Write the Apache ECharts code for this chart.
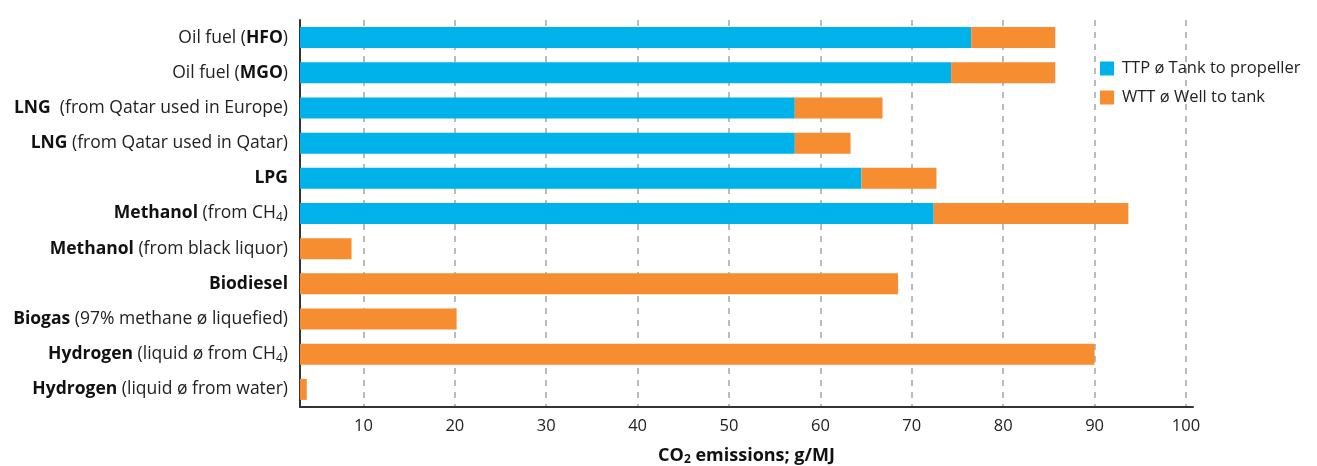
<!DOCTYPE html>
<html>
<head>
<meta charset="utf-8">
<script src="https://cdn.jsdelivr.net/npm/echarts@6/dist/echarts.min.js"></script>
<style>html,body{margin:0;padding:0;background:#fff;}#c{width:1317px;height:466px;}</style>
</head>
<body>
<div id="c"></div>
<script>
// Category labels (rich text markup: b = bold, n = normal, s = subscript)
var categories = [
  '{n|Oil fuel (}{b|HFO}{n|)}',
  '{n|Oil fuel (}{b|MGO}{n|)}',
  '{b|LNG}{n|  (from Qatar used in Europe)}',
  '{b|LNG}{n| (from Qatar used in Qatar)}',
  '{b|LPG}',
  '{b|Methanol}{n| (from CH}{s|4}{n|)}',
  '{b|Methanol}{n| (from black liquor)}',
  '{b|Biodiesel}',
  '{b|Biogas}{n| (97% methane ø liquefied)}',
  '{b|Hydrogen}{n| (liquid ø from CH}{s|4}{n|)}',
  '{b|Hydrogen}{n| (liquid ø from water)}'
];
var seriesNames = ['TTP ø Tank to propeller', 'WTT ø Well to tank'];
var ttp = [76.5, 74.3, 57.2, 57.2, 64.5, 72.4, 0, 0, 0, 0, 0];
var wtt = [9.2, 11.4, 9.6, 6.1, 8.2, 21.3, 8.7, 68.5, 20.2, 90.0, 3.8];
var xTicks = [10, 20, 30, 40, 50, 60, 70, 80, 90, 100];
var xMin = 3.06, xMax = 100.77;

var chart = echarts.init(document.getElementById('c'));
var FONT = 'Open Sans';
chart.setOption({
  animation: false,
  backgroundColor: '#ffffff',
  textStyle: { fontFamily: FONT },
  grid: { left: 300, right: 124, top: 20, bottom: 59, containLabel: false, outerBoundsMode: 'none' },
  legend: {
    orient: 'vertical',
    left: 1100,
    top: 60,
    padding: 0,
    itemWidth: 14,
    itemHeight: 14,
    itemGap: 12,
    icon: 'rect',
    textStyle: { fontFamily: FONT, fontSize: 16.5, color: '#222', padding: [0, 0, 0, 3] },
    data: seriesNames
  },
  xAxis: {
    type: 'value',
    min: xMin,
    max: xMax,
    name: '{b|CO}{s|2}{b| emissions; g/MJ}',
    nameLocation: 'middle',
    nameGap: 39,
    nameTextStyle: {
      rich: {
        b: { fontFamily: FONT, fontSize: 18, fontWeight: 'bold', color: '#111' },
        s: { fontFamily: FONT, fontSize: 12, fontWeight: 'bold', color: '#111', padding: [8, 0, 0, 0] }
      }
    },
    axisLine: { show: true, lineStyle: { color: '#333', width: 2 } },
    axisTick: { show: false, customValues: xTicks },
    axisLabel: { customValues: xTicks, fontFamily: FONT, fontSize: 16.5, color: '#222', margin: 11 },
    splitLine: { show: true, lineStyle: { color: '#9ea6ad', width: 1.5, type: [6, 6] } }
  },
  yAxis: {
    type: 'category',
    inverse: true,
    data: categories,
    axisLine: { show: true, lineStyle: { color: '#333', width: 2 } },
    axisTick: { show: false },
    axisLabel: {
      margin: 12,
      formatter: function (v) { return v; },
      rich: {
        b: { fontFamily: FONT, fontSize: 17.5, fontWeight: 'bold', color: '#111' },
        n: { fontFamily: FONT, fontSize: 17.5, color: '#222' },
        s: { fontFamily: FONT, fontSize: 12, color: '#222', padding: [8, 0, 0, 0] }
      }
    }
  },
  series: [
    {
      name: seriesNames[0], type: 'bar', stack: 'total', data: ttp,
      barWidth: 21, itemStyle: { color: '#00b2ea' }
    },
    {
      name: seriesNames[1], type: 'bar', stack: 'total', data: wtt,
      barWidth: 21, itemStyle: { color: '#f68e31' }
    }
  ]
});
</script>
</body>
</html>
